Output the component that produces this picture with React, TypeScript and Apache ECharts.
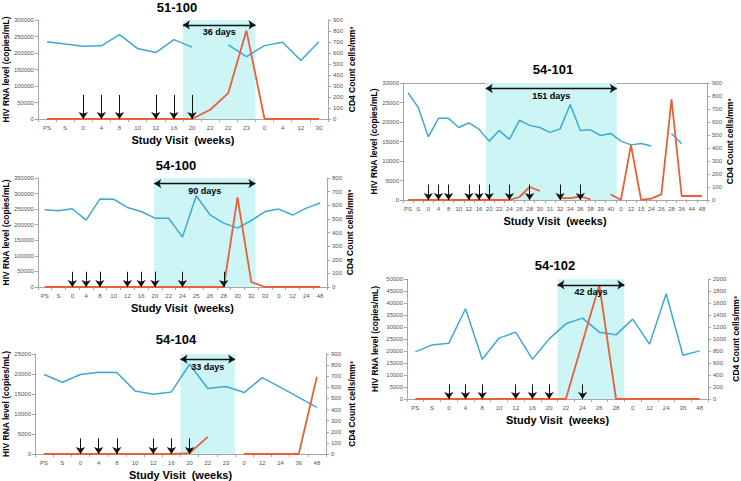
import React, { useEffect, useRef } from 'react';
import * as echarts from 'echarts';

const FONT = '"Liberation Sans", Arial, Helvetica, sans-serif';
const BLUE = '#3FA9D1';
const RED = '#E8603A';
const SHADE = '#CDF5F6';
const AXIS = '#A6A6A6';
const LABEL = '#555555';

// ---- Panel 51-100 ----
const p1Categories = ['PS', 'S', '0', '4', '8', '10', '12', '16', '20', '22', '22', '23', '0', '4', '12', '30'];
const p1Rna = [0, 0, 0, 0, 0, 0, 0, 0, 0, 28000, 78500, 268000, 0, 0, 0, 0];
const p1Cd4 = [703, 682, 662, 665, 767, 640, 604, 722, 653, null, 674, 568, 667, 698, 531, 703];
const p1Doses = [2, 3, 4, 6, 7, 8];
const p1Window = [8, 12];
const p1Days = '36 days';

// ---- Panel 54-100 ----
const p2Categories = ['PS', 'S', '0', '4', '8', '10', '12', '16', '20', '22', '24', '25', '26', '28', '30', '32', '33', '0', '12', '24', '48'];
const p2Rna = [0, 0, 0, 0, 0, 0, 0, 0, 0, 0, 0, 0, 0, 0, 287500, 16100, 0, 0, 0, 0, 0];
const p2Cd4 = [567, 559, 574, 491, 645, 644, 584, 554, 505, 505, 366, 670, 530, 469, 432, 488, 554, 572, 528, 579, 616];
const p2Doses = [2, 3, 4, 6, 7, 8, 10, 13];
const p2Window = [8.45, 15.8];
const p2Days = '90 days';

// ---- Panel 54-104 ----
const p3Categories = ['PS', 'S', '0', '4', '8', '10', '12', '16', '20', '22', '23', '0', '12', '24', '36', '48'];
const p3Rna = [0, 0, 0, 0, 0, 0, 0, 0, 200, 4300, null, 0, 0, 0, 0, 19300];
const p3Cd4 = [715, 646, 715, 736, 733, 568, 538, 559, 808, 589, 607, 553, 688, 600, 510, 419];
const p3Doses = [2, 3, 4, 6, 7, 8];
const p3Window = [8, 11];
const p3Days = '33 days';

// ---- Panel 54-101 ----
const p4Categories = ['PS', 'S', '0', '4', '8', '10', '12', '16', '20', '22', '24', '26', '28', '30', '31', '32', '34', '36', '38', '39', '40', '0', '12', '15', '24', '26', '28', '36', '44', '48'];
const p4Rna = [0, 0, 0, 0, 0, 0, 0, 0, 0, 0, 0, 770, 3340, 2310, null, 500, 500, 900, 150, null, 1460, 0, 14060, 0, 340, 1460, 25800, 1030, 1030, 1030];
const p4Cd4 = [825, 712, 486, 628, 628, 558, 594, 545, 453, 535, 466, 615, 574, 558, 520, 547, 735, 535, 540, 496, 512, 453, 424, 435, 416, null, 512, 432, null, null];
const p4Doses = [2, 3, 4, 6, 7, 8, 10, 12, 15, 17];
const p4Window = [8.17, 21.1];
const p4Days = '151 days';

// ---- Panel 54-102 ----
const p5Categories = ['PS', 'S', '0', '4', '8', '10', '12', '16', '20', '22', '24', '26', '28', '0', '12', '24', '36', '48'];
const p5Rna = [0, 0, 0, 0, 0, 0, 0, 0, 0, 0, 23900, 47500, 0, 0, 0, 0, 0, 0];
const p5Cd4 = [785, 902, 930, 1504, 663, 1014, 1114, 663, 1002, 1253, 1348, 1114, 1069, 1331, 914, 1754, 730, 802];
const p5Doses = [2, 3, 4, 6, 7, 8, 10];
const p5Window = [9, 13];
const p5Days = '42 days';

const panels = [
  { title: '51-100', tx: 177, ty: 7, grid: { left: 37, top: 20, width: 291, height: 99 }, cats: p1Categories, rna: p1Rna, cd4: p1Cd4, doses: p1Doses, win: p1Window, days: p1Days, rnaMax: 300000, rnaStep: 50000, cd4Max: 900, cd4Step: 100, spanY: 285000, doseTop: 73000, lg: 27, rg: 19, frame: false },
  { title: '54-100', tx: 176, ty: 165, grid: { left: 35, top: 178, width: 292, height: 109 }, cats: p2Categories, rna: p2Rna, cd4: p2Cd4, doses: p2Doses, win: p2Window, days: p2Days, rnaMax: 350000, rnaStep: 50000, cd4Max: 800, cd4Step: 100, spanY: 332000, doseTop: 49000, lg: 24, rg: 17, frame: false },
  { title: '54-104', tx: 176, ty: 339, grid: { left: 35, top: 354, width: 291, height: 100 }, cats: p3Categories, rna: p3Rna, cd4: p3Cd4, doses: p3Doses, win: p3Window, days: p3Days, rnaMax: 25000, rnaStep: 5000, cd4Max: 900, cd4Step: 100, spanY: 23700, doseTop: 3900, lg: 25, rg: 21, frame: false },
  { title: '54-101', tx: 553, ty: 69, grid: { left: 403, top: 83, width: 304, height: 117 }, cats: p4Categories, rna: p4Rna, cd4: p4Cd4, doses: p4Doses, win: p4Window, days: p4Days, rnaMax: 30000, rnaStep: 5000, cd4Max: 900, cd4Step: 100, spanY: 28600, doseTop: 3960, lg: 23, rg: 18, frame: true },
  { title: '54-102', tx: 555, ty: 265, grid: { left: 407, top: 279, width: 301, height: 120 }, cats: p5Categories, rna: p5Rna, cd4: p5Cd4, doses: p5Doses, win: p5Window, days: p5Days, rnaMax: 50000, rnaStep: 5000, cd4Max: 2000, cd4Step: 200, spanY: 47600, doseTop: 6100, lg: 28, rg: 23, frame: false },
];

const plain = (v: number) => String(v);

function buildOption() {
  const grid: any[] = [];
  const xAxis: any[] = [];
  const yAxis: any[] = [];
  const series: any[] = [];
  const graphic: any[] = [];

  panels.forEach((p, i) => {
    grid.push({ ...p.grid, containLabel: false });
    const xCat = xAxis.length;
    xAxis.push({
      type: 'category', gridIndex: i, data: p.cats, boundaryGap: true,
      axisLine: { show: true, lineStyle: { color: AXIS, width: 1 } },
      axisTick: { show: true, length: 3, lineStyle: { color: AXIS } },
      axisLabel: { fontSize: 6, color: LABEL, margin: 6, interval: 0, fontFamily: FONT },
      splitLine: { show: false },
      name: 'Study Visit  (weeks)', nameLocation: 'middle', nameGap: 15,
      nameTextStyle: { fontSize: 11, fontWeight: 'bold', color: '#000', fontFamily: FONT },
    });
    const xVal = xAxis.length;
    xAxis.push({
      type: 'value', gridIndex: i, min: 0, max: p.cats.length, position: 'top', show: p.frame,
      axisLine: { show: true, onZero: false, lineStyle: { color: AXIS, width: 1 } },
      axisTick: { show: false }, axisLabel: { show: false }, splitLine: { show: false },
    });
    const yL = yAxis.length;
    yAxis.push({
      type: 'value', gridIndex: i, position: 'left', min: 0, max: p.rnaMax, interval: p.rnaStep,
      splitLine: { show: false },
      axisLine: { show: true, lineStyle: { color: AXIS } },
      axisTick: { show: true, length: 3, lineStyle: { color: AXIS } },
      axisLabel: { fontSize: 6, color: LABEL, margin: 4, fontFamily: FONT, formatter: plain },
      name: 'HIV RNA level (copies/mL)', nameLocation: 'middle', nameRotate: 90, nameGap: p.lg,
      nameTextStyle: { fontSize: 8.5, fontWeight: 'bold', color: '#000', fontFamily: FONT },
    });
    const yR = yAxis.length;
    yAxis.push({
      type: 'value', gridIndex: i, position: 'right', min: 0, max: p.cd4Max, interval: p.cd4Step,
      splitLine: { show: false },
      axisLine: { show: true, lineStyle: { color: AXIS } },
      axisTick: { show: true, length: 3, lineStyle: { color: AXIS } },
      axisLabel: { fontSize: 6, color: LABEL, margin: 5, fontFamily: FONT, formatter: plain },
      name: 'CD4 Count cells/mm³', nameLocation: 'middle', nameRotate: 90, nameGap: p.rg,
      nameTextStyle: { fontSize: 8.5, fontWeight: 'bold', color: '#000', fontFamily: FONT },
    });

    // shaded interruption window
    series.push({
      type: 'line', xAxisIndex: xVal, yAxisIndex: yL, data: [], silent: true, z: 1,
      markArea: {
        silent: true, itemStyle: { color: SHADE },
        data: [[{ xAxis: p.win[0] }, { xAxis: p.win[1] }]],
      },
    });
    series.push({
      type: 'line', name: 'CD4', xAxisIndex: xCat, yAxisIndex: yR, data: p.cd4,
      symbol: 'none', connectNulls: false, z: 3,
      lineStyle: { color: BLUE, width: 1.5 },
    });
    series.push({
      type: 'line', name: 'HIV RNA', xAxisIndex: xCat, yAxisIndex: yL, data: p.rna,
      symbol: 'none', connectNulls: false, z: 4,
      lineStyle: { color: RED, width: 1.8 },
    });
    // arrows
    const lines: any[] = p.doses.map((d) => [
      { coord: [d + 0.5, p.doseTop], symbol: 'none' },
      { coord: [d + 0.5, 0], symbol: 'arrow', symbolSize: 7 },
    ]);
    lines.push([
      {
        coord: [p.win[0], p.spanY], symbol: 'arrow', symbolSize: 7,
        lineStyle: { color: '#111', width: 1.3, type: 'solid' },
        label: {
          show: true, position: 'insideMiddleBottom', formatter: p.days, distance: 3,
          fontSize: 9, fontWeight: 'bold', color: '#000', fontFamily: FONT,
        },
      },
      { coord: [p.win[1], p.spanY], symbol: 'arrow', symbolSize: 7 },
    ]);
    series.push({
      type: 'line', xAxisIndex: xVal, yAxisIndex: yL, data: [], silent: true, z: 5,
      markLine: {
        silent: true, animation: false, precision: 4,
        lineStyle: { color: '#111', width: 1, type: 'solid' },
        label: { show: false },
        emphasis: { disabled: true },
        data: lines,
      },
    });

    graphic.push({
      type: 'text', x: p.tx, y: p.ty, silent: true,
      style: { text: p.title, textAlign: 'center', textVerticalAlign: 'middle', font: `bold 13px ${FONT}`, fill: '#000' },
    });
  });

  return {
    animation: false,
    backgroundColor: '#ffffff',
    textStyle: { fontFamily: FONT },
    grid, xAxis, yAxis, series, graphic,
  };
}

export default function App() {
  const ref = useRef<HTMLDivElement>(null);
  useEffect(() => {
    if (!ref.current) return;
    const chart = echarts.init(ref.current, undefined, { renderer: 'svg' });
    chart.setOption(buildOption() as any);
    return () => chart.dispose();
  }, []);
  return (
    <div
      ref={ref}
      style={{ position: 'fixed', left: 0, top: 0, width: 741, height: 481, background: '#fff' }}
    />
  );
}
